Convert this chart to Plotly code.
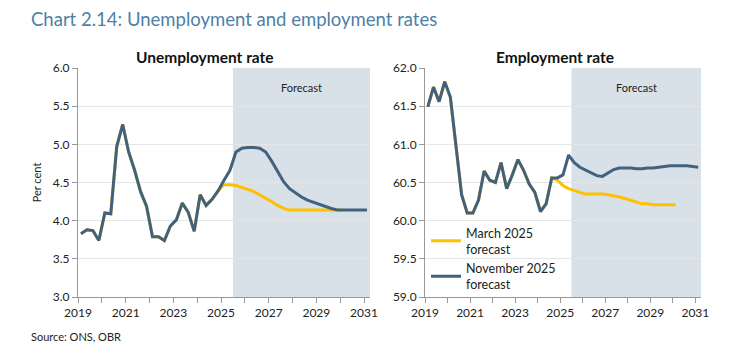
import plotly.graph_objects as go

# Quarterly data, 2019Q1 .. 2031Q1
quarters = [2019.125 + 0.25 * i for i in range(49)]

unemp_nov = [3.83, 3.88, 3.87, 3.74, 4.10, 4.09, 4.97, 5.26, 4.90, 4.66,
             4.38, 4.19, 3.79, 3.79, 3.74, 3.93, 4.01, 4.23, 4.11, 3.86,
             4.34, 4.20, 4.28, 4.39, 4.53, 4.66, 4.90, 4.95, 4.96, 4.96,
             4.95, 4.90, 4.78, 4.64, 4.51, 4.42, 4.36, 4.31, 4.27, 4.24,
             4.21, 4.18, 4.16, 4.14, 4.14, 4.14, 4.14, 4.14, 4.14]
unemp_mar = [3.83, 3.88, 3.87, 3.74, 4.10, 4.09, 4.97, 5.26, 4.90, 4.66,
             4.38, 4.19, 3.79, 3.79, 3.74, 3.93, 4.01, 4.23, 4.11, 3.86,
             4.34, 4.20, 4.28, 4.39, 4.47, 4.47, 4.46, 4.44, 4.41, 4.38,
             4.34, 4.30, 4.25, 4.20, 4.16, 4.14, 4.14, 4.14, 4.14, 4.14,
             4.14, 4.14, 4.14, 4.14, 4.14]

emp_nov = [61.49, 61.75, 61.56, 61.82, 61.62, 61.00, 60.34, 60.10, 60.10, 60.27,
           60.65, 60.53, 60.50, 60.76, 60.42, 60.60, 60.80, 60.66, 60.48, 60.37,
           60.12, 60.22, 60.56, 60.56, 60.60, 60.86, 60.76, 60.70, 60.66, 60.62,
           60.59, 60.58, 60.63, 60.67, 60.69, 60.69, 60.69, 60.68, 60.68, 60.69,
           60.69, 60.70, 60.71, 60.72, 60.72, 60.72, 60.72, 60.71, 60.70]
emp_mar = [61.49, 61.75, 61.56, 61.82, 61.62, 61.00, 60.34, 60.10, 60.10, 60.27,
           60.65, 60.53, 60.50, 60.76, 60.42, 60.60, 60.80, 60.66, 60.48, 60.37,
           60.12, 60.22, 60.56, 60.53, 60.46, 60.42, 60.39, 60.37, 60.35, 60.35,
           60.35, 60.35, 60.34, 60.33, 60.31, 60.29, 60.27, 60.24, 60.22, 60.22,
           60.21, 60.21, 60.21, 60.21, 60.21]

x_ticks = [2019, 2021, 2023, 2025, 2027, 2029, 2031]
forecast_start = 2025.5
x_end = 2031.25

YELLOW = "#FFC000"
BLUE = "#41627F"
SHADE = "#D8E0E8"
FONT = "Lato"
TXT = "#222222"
W, H = 737, 357

fig = go.Figure()
fig.add_trace(go.Scatter(x=quarters[:len(unemp_mar)], y=unemp_mar, mode="lines",
                         line=dict(color=YELLOW, width=3), xaxis="x", yaxis="y",
                         name="March 2025<br>forecast", showlegend=False))
fig.add_trace(go.Scatter(x=quarters, y=unemp_nov, mode="lines",
                         line=dict(color=BLUE, width=3), xaxis="x", yaxis="y",
                         name="November 2025<br>forecast", showlegend=False))
fig.add_trace(go.Scatter(x=quarters[:len(emp_mar)], y=emp_mar, mode="lines",
                         line=dict(color=YELLOW, width=3), xaxis="x2", yaxis="y2",
                         name="March 2025<br>forecast"))
fig.add_trace(go.Scatter(x=quarters, y=emp_nov, mode="lines",
                         line=dict(color=BLUE, width=3), xaxis="x2", yaxis="y2",
                         name="November 2025<br>forecast"))

xcommon = dict(range=[2019, x_end], tickmode="array", tickvals=x_ticks,
               ticks="outside", ticklen=5, tickcolor="#999999", automargin=False,
               showline=True, linecolor="#999999", linewidth=1,
               showgrid=False, zeroline=False,
               tickfont=dict(family=FONT, size=12, color=TXT),
               minor=dict(dtick=1, tick0=2019, ticks="outside", ticklen=5,
                          tickcolor="#999999", showgrid=False))
ycommon = dict(ticks="outside", ticklen=5, tickcolor="#999999", automargin=False,
               showline=True, linecolor="#999999", linewidth=1,
               showgrid=True, gridcolor="#E6E6E6", gridwidth=1, zeroline=False,
               tickformat=".1f", dtick=0.5,
               tickfont=dict(family=FONT, size=12, color=TXT))

PT, PB = 68, 297  # plot top / bottom in px

fig.update_layout(
    template="none",
    width=W, height=H, autosize=False,
    margin=dict(l=0, r=0, t=0, b=0, autoexpand=False),
    paper_bgcolor="white", plot_bgcolor="white",
    xaxis=dict(domain=[78 / W, 370 / W], anchor="y", **xcommon),
    yaxis=dict(domain=[1 - PB / H, 1 - PT / H], anchor="x", range=[3.0, 6.0],
               title=dict(text="Per cent", font=dict(family=FONT, size=11, color=TXT),
                          standoff=8),
               **ycommon),
    xaxis2=dict(domain=[425 / W, 701 / W], anchor="y2", **xcommon),
    yaxis2=dict(domain=[1 - PB / H, 1 - PT / H], anchor="x2", range=[59.0, 62.0],
                **ycommon),
    legend=dict(x=426 / W, y=1 - 218 / H, xanchor="left", yanchor="top",
                bgcolor="rgba(0,0,0,0)", itemwidth=30, tracegroupgap=4,
                font=dict(family=FONT, size=12.5, color=TXT)),
    shapes=[
        dict(type="rect", xref="x", yref="y domain", x0=forecast_start, x1=x_end,
             y0=0, y1=1, fillcolor=SHADE, line=dict(width=0), layer="below"),
        dict(type="rect", xref="x2", yref="y2 domain", x0=forecast_start, x1=x_end,
             y0=0, y1=1, fillcolor=SHADE, line=dict(width=0), layer="below"),
    ],
    annotations=[
        dict(text="Chart 2.14: Unemployment and employment rates", xref="paper",
             yref="paper", x=29 / W, y=1 - 19 / H, xanchor="left", yanchor="middle",
             showarrow=False, font=dict(family=FONT, size=18.5, color="#4E7FA6")),
        dict(text="<b>Unemployment rate</b>", xref="paper", yref="paper",
             x=205 / W, y=1 - 57 / H, xanchor="center", yanchor="middle",
             showarrow=False, font=dict(family=FONT, size=15.5, color="#111111")),
        dict(text="<b>Employment rate</b>", xref="paper", yref="paper",
             x=555 / W, y=1 - 57 / H, xanchor="center", yanchor="middle",
             showarrow=False, font=dict(family=FONT, size=15.5, color="#111111")),
        dict(text="Forecast", xref="x", yref="paper", x=(forecast_start + x_end) / 2,
             y=1 - 87 / H, xanchor="center", yanchor="middle", showarrow=False,
             font=dict(family=FONT, size=11, color=TXT)),
        dict(text="Forecast", xref="x2", yref="paper", x=(forecast_start + x_end) / 2,
             y=1 - 87 / H, xanchor="center", yanchor="middle", showarrow=False,
             font=dict(family=FONT, size=11, color=TXT)),
        dict(text="Source: ONS, OBR", xref="paper", yref="paper",
             x=29 / W, y=1 - 336 / H, xanchor="left", yanchor="middle",
             showarrow=False, font=dict(family=FONT, size=11, color=TXT)),
    ],
)

fig.write_html(
    "out.html",
    config={"displayModeBar": False},
    post_script="document.body.style.margin='0';document.body.style.overflow='hidden';",
)
